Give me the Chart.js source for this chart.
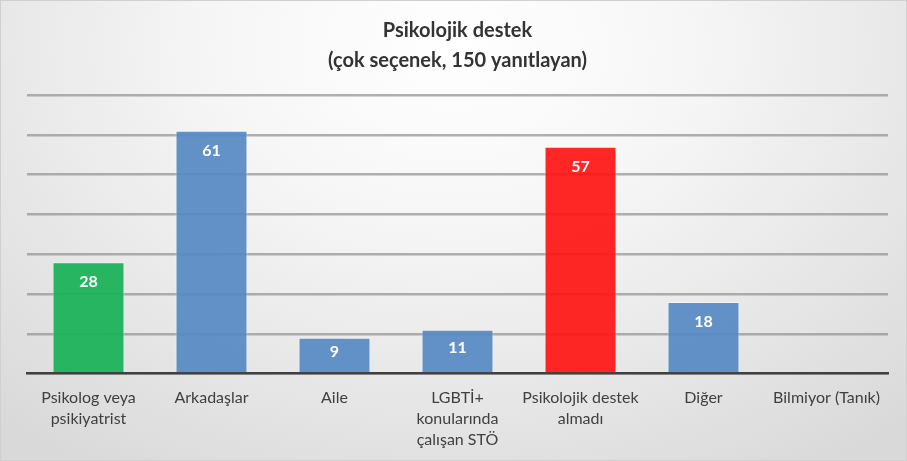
<!DOCTYPE html>
<html>
<head>
<meta charset="utf-8">
<script src="https://cdn.jsdelivr.net/npm/chart.js@4"></script>
<style>
html,body{margin:0;padding:0;}
.box{
width:905px;
height:459px;
border:1px solid #d0d0d0;
background:radial-gradient(ellipse 75% 110% at 50% 10%, #ffffff 0%, #f6f6f6 35%, #d9d9d9 100%);
}
</style>
</head>
<body>
<div class="box"><canvas id="supportChart" width="905" height="459"></canvas></div>
<script>

/* ==========================================
   DATA
========================================== */

const categories = [
["Psikolog veya","psikiyatrist"],
"Arkadaşlar",
"Aile",
["LGBTİ+","konularında","çalışan STÖ"],
["Psikolojik destek","almadı"],
"Diğer",
"Bilmiyor (Tanık)"
];

const answers = [28,61,9,11,57,18,0];

const barColors = [
"rgba(30,178,90,.95)",
"rgba(86,137,196,.92)",
"rgba(86,137,196,.92)",
"rgba(86,137,196,.92)",
"rgba(255,20,20,.92)",
"rgba(86,137,196,.92)",
"rgba(86,137,196,.92)"
];

const titleLines = ["Psikolojik destek","(çok seçenek, 150 yanıtlayan)"];


/* ==========================================
   VALUE LABELS INSIDE BARS
========================================== */

const barLabels = {

id:"barLabels",

afterDatasetsDraw(chart){

const ctx = chart.ctx;
const meta = chart.getDatasetMeta(0);

ctx.save();
ctx.font = "bold 16px Lato";
ctx.fillStyle = "#ffffff";
ctx.textAlign = "center";
ctx.textBaseline = "middle";

meta.data.forEach((bar,i)=>{

const v = answers[i];
if(!v) return;

let y = bar.y + 20;
const mid = (bar.y + bar.base)/2 - 3;
if(y > mid) y = mid;

ctx.fillText(v, bar.x, y);

});

ctx.restore();

}

};


/* ==========================================
   CHART
========================================== */

new Chart(document.getElementById("supportChart"),{

type:"bar",

data:{
labels:categories,
datasets:[{
data:answers,
backgroundColor:barColors,
borderColor:"rgba(255,255,255,.45)",
borderWidth:1,
categoryPercentage:1,
barPercentage:.585
}]
},

options:{

responsive:false,
animation:false,

layout:{
padding:{left:26,right:18,top:0,bottom:4}
},

plugins:{
legend:{display:false},
tooltip:{enabled:false},
title:{
display:true,
text:titleLines,
color:"#333333",
font:{family:"Lato",size:20,weight:"bold",lineHeight:1.5},
padding:{top:15,bottom:19}
}
},

scales:{

x:{
grid:{display:false},
border:{color:"#404040",width:2.5},
ticks:{
color:"#404040",
font:{family:"Lato",size:16,lineHeight:1.3},
padding:6,
maxRotation:0,
autoSkip:false
}
},

y:{
min:0,
max:70,
grid:{color:"rgba(150,150,150,.75)",lineWidth:2.5,drawTicks:false},
border:{display:false},
ticks:{display:false,stepSize:10}
}

}

},

plugins:[barLabels]

});

</script>
</body>
</html>
